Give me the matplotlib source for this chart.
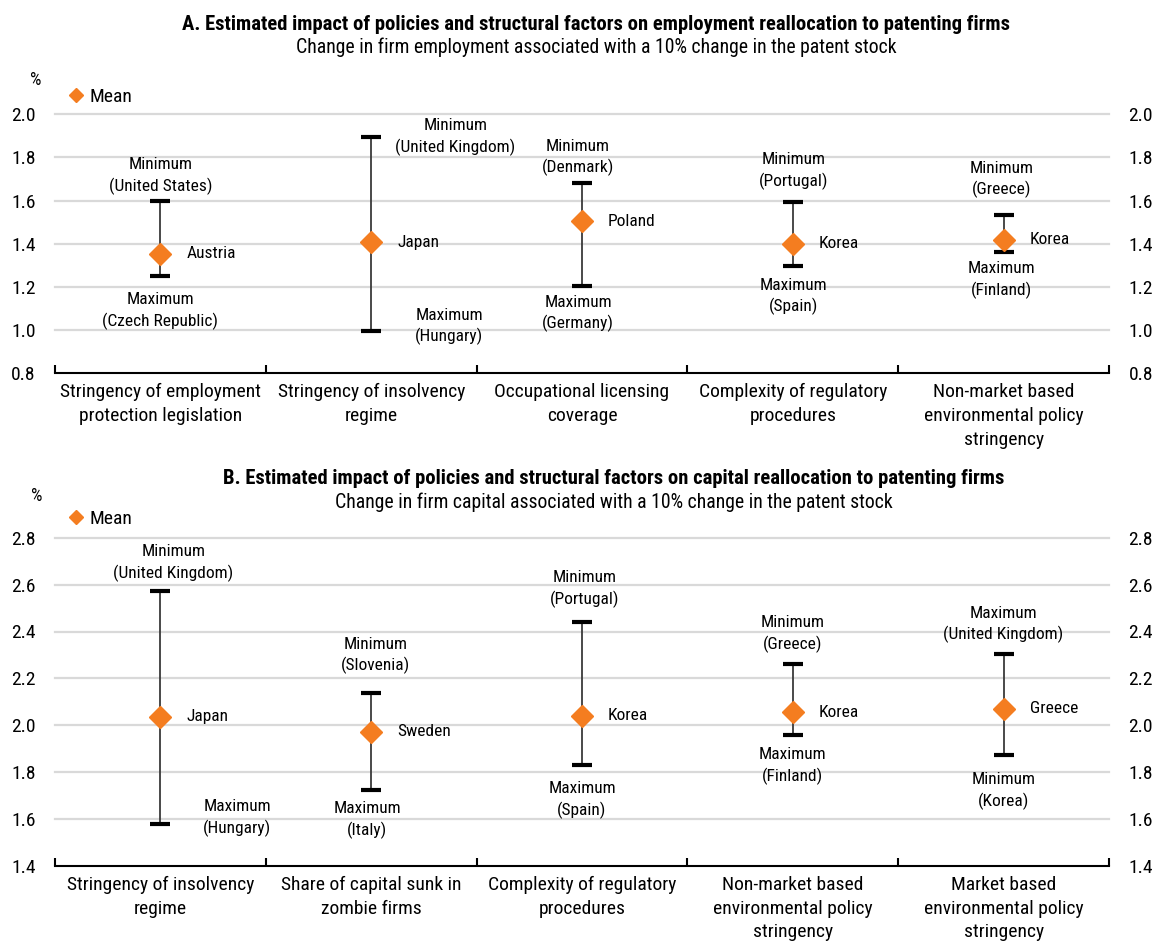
import matplotlib
matplotlib.use("Agg")
import matplotlib.pyplot as plt
from matplotlib.lines import Line2D
import numpy as np

plt.rcParams['font.family'] = ['Roboto Condensed', 'Liberation Sans', 'DejaVu Sans']

ORANGE = '#F47D20'

# Panel A: employment
emp_title = "A. Estimated impact of policies and structural factors on employment reallocation to patenting firms"
emp_subtitle = "Change in firm employment associated with a 10% change in the patent stock"
emp_categories = ["Stringency of employment\nprotection legislation",
                  "Stringency of insolvency\nregime",
                  "Occupational licensing\ncoverage",
                  "Complexity of regulatory\nprocedures",
                  "Non-market based\nenvironmental policy\nstringency"]
emp_mean = [1.355, 1.408, 1.504, 1.401, 1.418]
emp_upper = [1.598, 1.894, 1.680, 1.594, 1.535]
emp_lower = [1.250, 0.997, 1.206, 1.299, 1.362]
emp_mean_country = ["Austria", "Japan", "Poland", "Korea", "Korea"]
emp_upper_label = ["Minimum\n(United States)", "Minimum\n(United Kingdom)", "Minimum\n(Denmark)",
                   "Minimum\n(Portugal)", "Minimum\n(Greece)"]
emp_lower_label = ["Maximum\n(Czech Republic)", "Maximum\n(Hungary)", "Maximum\n(Germany)",
                   "Maximum\n(Spain)", "Maximum\n(Finland)"]

# Panel B: capital
cap_title = "B. Estimated impact of policies and structural factors on capital reallocation to patenting firms"
cap_subtitle = "Change in firm capital associated with a 10% change in the patent stock"
cap_categories = ["Stringency of insolvency\nregime",
                  "Share of capital sunk in\nzombie firms",
                  "Complexity of regulatory\nprocedures",
                  "Non-market based\nenvironmental policy\nstringency",
                  "Market based\nenvironmental policy\nstringency"]
cap_mean = [2.037, 1.973, 2.041, 2.055, 2.070]
cap_upper = [2.573, 2.139, 2.440, 2.261, 2.303]
cap_lower = [1.579, 1.724, 1.831, 1.959, 1.873]
cap_mean_country = ["Japan", "Sweden", "Korea", "Korea", "Greece"]
cap_upper_label = ["Minimum\n(United Kingdom)", "Minimum\n(Slovenia)", "Minimum\n(Portugal)",
                   "Minimum\n(Greece)", "Maximum\n(United Kingdom)"]
cap_lower_label = ["Maximum\n(Hungary)", "Maximum\n(Italy)", "Maximum\n(Spain)",
                   "Maximum\n(Finland)", "Minimum\n(Korea)"]

# label offsets in pixels (dx, dy) relative to the cap ends
emp_upper_off = [(0, 25), (84, 0), (-4, 26), (1, 31), (-2, 35)]
emp_lower_off = [(0, -35), (78, 4), (-4, -28), (1, -31), (-2, -28)]
cap_upper_off = [(13, 28), (4, 37), (3, 33), (0, 30), (0, 30)]
cap_lower_off = [(77, 6), (-4, -30), (0, -35), (0, -31), (0, -36)]

W, H = 1156, 941
fig = plt.figure(figsize=(W / 100, H / 100), dpi=100)


def px(x0, y0, x1, y1):
    return [x0 / W, 1 - y1 / H, (x1 - x0) / W, (y1 - y0) / H]


def draw_panel(ax, cats, mean, upper, lower, country, up_lab, lo_lab, up_off, lo_off, ylim, ticks):
    x = np.arange(len(cats))
    ax.set_xlim(-0.5, len(cats) - 0.5)
    ax.set_ylim(*ylim)
    ax.set_yticks(ticks)
    ax.set_yticklabels([f"{t:.1f}" for t in ticks])
    for t in ticks[1:]:
        ax.axhline(t, color='#d9d9d9', lw=1.6, zorder=0, clip_on=False)
    ax.vlines(x, lower, upper, color='#3a3a3a', lw=1.3, zorder=2)
    ax.plot(x, upper, ls='none', marker='_', ms=15, mew=3, color='black', zorder=3)
    ax.plot(x, lower, ls='none', marker='_', ms=15, mew=3, color='black', zorder=3)
    ax.plot(x, mean, ls='none', marker='D', ms=11.5, color=ORANGE, mec=ORANGE, zorder=4)
    for i in x:
        ax.annotate(country[i], (i, mean[i]), xytext=(26, 0), textcoords='offset pixels',
                    ha='left', va='center', fontsize=12.5)
        ax.annotate(up_lab[i], (i, upper[i]), xytext=up_off[i], textcoords='offset pixels',
                    ha='center', va='center', fontsize=12.5, linespacing=1.38,
                    annotation_clip=False)
        ax.annotate(lo_lab[i], (i, lower[i]), xytext=lo_off[i], textcoords='offset pixels',
                    ha='center', va='center', fontsize=12.5, linespacing=1.38,
                    annotation_clip=False)

    for s in ['top', 'left', 'right']:
        ax.spines[s].set_visible(False)
    ax.spines['bottom'].set_linewidth(1.5)
    ax.set_xticks(x)
    ax.set_xticklabels(cats, fontsize=14, linespacing=1.42)
    ax.set_xticks(np.arange(len(cats) + 1) - 0.5, minor=True)
    ax.tick_params(axis='x', which='major', length=0, pad=7)
    ax.tick_params(axis='x', which='minor', direction='in', length=6, width=1.5)
    ax.tick_params(axis='y', length=0, labelsize=14, labelleft=True, labelright=True, pad=14)
    ax.patch.set_visible(False)


ax1 = fig.add_axes(px(55, 114.3, 1109, 373.3))
draw_panel(ax1, emp_categories, emp_mean, emp_upper, emp_lower, emp_mean_country,
           emp_upper_label, emp_lower_label, emp_upper_off, emp_lower_off,
           (0.8, 2.0), [0.8, 1.0, 1.2, 1.4, 1.6, 1.8, 2.0])

ax2 = fig.add_axes(px(55, 537.7, 1109, 866))
draw_panel(ax2, cap_categories, cap_mean, cap_upper, cap_lower, cap_mean_country,
           cap_upper_label, cap_lower_label, cap_upper_off, cap_lower_off,
           (1.4, 2.8), [1.4, 1.6, 1.8, 2.0, 2.2, 2.4, 2.6, 2.8])

fig.text(596 / W, 1 - 25 / H, emp_title, ha='center', va='center', fontsize=14.9, fontweight='bold')
fig.text(596 / W, 1 - 47 / H, emp_subtitle, ha='center', va='center', fontsize=14.2)
fig.text(614 / W, 1 - 479 / H, cap_title, ha='center', va='center', fontsize=14.9, fontweight='bold')
fig.text(614 / W, 1 - 502 / H, cap_subtitle, ha='center', va='center', fontsize=14.2)

fig.text(36 / W, 1 - 80 / H, "%", ha='center', va='center', fontsize=13)
fig.text(37 / W, 1 - 496 / H, "%", ha='center', va='center', fontsize=13)

for ax, ly in [(ax1, 97), (ax2, 519)]:
    h = Line2D([], [], ls='none', marker='D', ms=7, color=ORANGE)
    fig.legend([h], ["Mean"], loc='center left', bbox_to_anchor=(70 / W, 1 - ly / H),
               frameon=False, fontsize=14, handlelength=0.6, handletextpad=0.4,
               borderpad=0, borderaxespad=0)

fig.savefig("out.png", dpi=100)
